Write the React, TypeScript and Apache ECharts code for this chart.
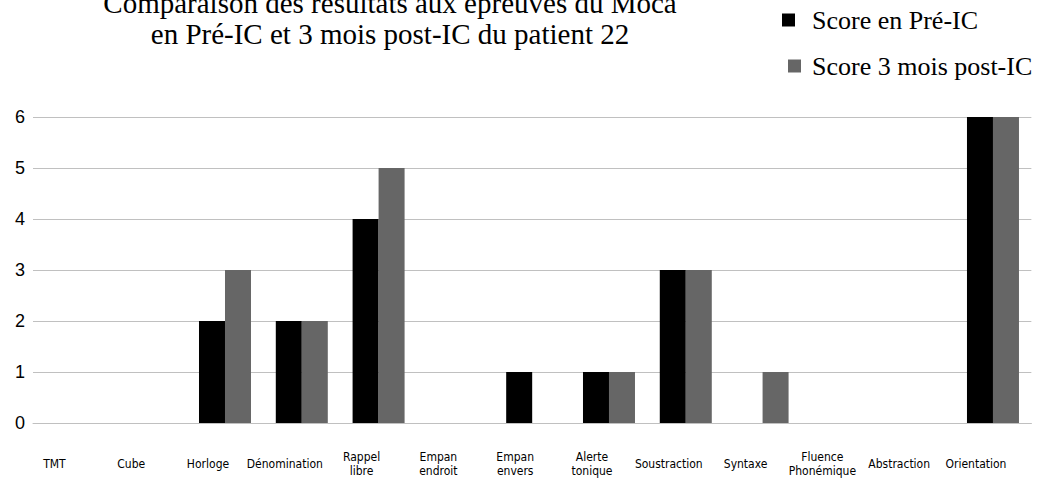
import React, { useEffect, useRef } from "react";
import * as echarts from "echarts";

const categories = [
  "TMT",
  "Cube",
  "Horloge",
  "Dénomination",
  "Rappel\nlibre",
  "Empan\nendroit",
  "Empan\nenvers",
  "Alerte\ntonique",
  "Soustraction",
  "Syntaxe",
  "Fluence\nPhonémique",
  "Abstraction",
  "Orientation",
];
const preIC = [0, 0, 2, 2, 4, 0, 1, 1, 3, 0, 0, 0, 6];
const post3m = [0, 0, 3, 2, 5, 0, 0, 1, 3, 1, 0, 0, 6];
const seriesNames = ["Score en Pré-IC", "Score 3 mois post-IC"];
const titleLines = [
  "Comparaison des résultats aux épreuves du Moca",
  "en Pré-IC et 3 mois post-IC du patient 22",
];

const legendText = {
  fontFamily: "Liberation Serif",
  fontSize: 26,
  lineHeight: 26,
  color: "#000",
};

export default function App() {
  const ref = useRef<HTMLDivElement>(null);
  useEffect(() => {
    if (!ref.current) return;
    const chart = echarts.init(ref.current, null, { renderer: "svg" });
    chart.setOption({
      animation: false,
      backgroundColor: "#ffffff",
      graphic: [
        {
          type: "text",
          x: 390,
          y: 18,
          style: {
            text: titleLines.join("\n"),
            font: '29px "Liberation Serif"',
            lineHeight: 31,
            fill: "#000",
            align: "center",
            verticalAlign: "middle",
          },
        },
      ],
      legend: [
        {
          orient: "vertical",
          left: 782,
          top: 5,
          padding: 0,
          itemWidth: 13,
          itemHeight: 13,
          icon: "rect",
          textStyle: { ...legendText, padding: [4, 0, 0, 12] },
          data: [seriesNames[0]],
        },
        {
          orient: "vertical",
          left: 788,
          top: 51,
          padding: 0,
          itemWidth: 13,
          itemHeight: 13,
          icon: "rect",
          textStyle: { ...legendText, padding: [4, 0, 0, 6] },
          data: [seriesNames[1]],
        },
      ],
      grid: { left: 33, right: 0, top: 117, bottom: 56, containLabel: false },
      xAxis: {
        type: "category",
        data: categories,
        axisLine: { show: true, lineStyle: { color: "#c0c0c0", width: 1 } },
        axisTick: { show: false },
        axisLabel: {
          interval: 0,
          margin: 41,
          verticalAlign: "middle",
          fontFamily: '"Liberation Sans Narrow", "DejaVu Sans Condensed", "Liberation Sans"',
          fontSize: 12,
          lineHeight: 14,
          color: "#000",
          padding: [0, 34, 0, 0],
        },
      },
      yAxis: {
        type: "value",
        min: 0,
        max: 6,
        interval: 1,
        axisLine: { show: false },
        axisTick: { show: false },
        splitLine: { lineStyle: { color: "#c0c0c0", width: 1 } },
        axisLabel: {
          margin: 8,
          fontFamily: "Liberation Sans",
          fontSize: 18,
          color: "#000",
        },
      },
      series: [
        {
          name: seriesNames[0],
          type: "bar",
          data: preIC,
          barWidth: 26,
          barGap: "0%",
          itemStyle: { color: "#000000" },
        },
        {
          name: seriesNames[1],
          type: "bar",
          data: post3m,
          barWidth: 26,
          barGap: "0%",
          itemStyle: { color: "#666666" },
        },
      ],
    });
    return () => chart.dispose();
  }, []);
  return (
    <div
      ref={ref}
      style={{ position: "fixed", left: 0, top: 0, width: 1043, height: 479 }}
    />
  );
}
